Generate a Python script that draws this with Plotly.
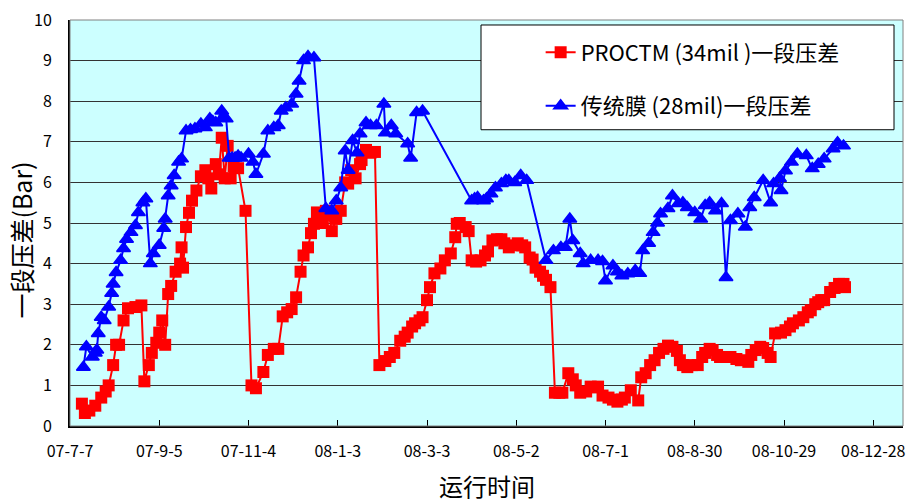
import pandas as pd
import plotly.graph_objects as go

# Operating start date; samples are stored as days of operation since this date
start_date = "2007-07-07"

# PROCTM (34mil) first-stage differential pressure, Bar
red_day = [8, 10, 13, 17, 21, 24, 26, 29, 31, 33, 36, 39, 44, 48, 50, 53, 55, 58, 60, 62,
           64, 66, 68, 71, 74, 75, 76, 78, 80, 82, 85, 88, 91, 93, 95, 98, 100, 102, 104, 106,
           108, 110, 113, 118, 122, 125, 130, 133, 137, 140, 143, 146, 149, 152, 155, 157, 160, 162, 164, 166,
           167, 170, 172, 174, 176, 179, 182, 185, 187, 189, 192, 195, 196, 199, 202, 205, 208, 212, 215, 218,
           222, 225, 227, 230, 232, 235, 237, 240, 242, 245, 249, 252, 256, 259, 260, 262, 266, 268, 270, 273,
           276, 279, 281, 284, 287, 290, 292, 295, 298, 301, 304, 306, 309, 311, 313, 316, 318, 320, 323, 326,
           329, 331, 335, 338, 340, 343, 347, 350, 353, 355, 358, 362, 365, 368, 371, 373, 377, 382, 384, 387,
           390, 393, 396, 399, 402, 405, 408, 410, 412, 415, 418, 422, 425, 427, 430, 432, 435, 437, 441, 444,
           448, 451, 456, 458, 461, 464, 466, 469, 471, 474, 478, 481, 484, 486, 490, 493, 496, 498, 501, 503,
           505, 507, 511, 514, 517, 520, 521]
red_val = [0.55, 0.32, 0.38, 0.5, 0.7, 0.85, 1.0, 1.5, 2.0, 2.0, 2.6, 2.9, 2.93, 2.97, 1.1, 1.5, 1.8, 2.05, 2.3, 2.6,
           2.0, 3.25, 3.45, 3.8, 4.0, 4.4, 3.9, 4.9, 5.25, 5.55, 5.8, 6.15, 6.3, 6.1, 5.85, 6.45, 6.2, 7.1, 6.1, 6.9,
           6.1, 6.4, 6.35, 5.3, 1.0, 0.93, 1.33, 1.75, 1.9, 1.9, 2.7, 2.8, 2.88, 3.17, 3.8, 4.2, 4.4, 4.75, 4.98, 5.26,
           5.2, 5.0, 5.3, 5.2, 4.8, 5.1, 5.3, 6.0, 5.97, 6.3, 6.1, 6.45, 6.55, 6.8, 6.73, 6.75, 1.5, 1.6, 1.7, 1.8,
           2.1, 2.2, 2.3, 2.45, 2.53, 2.6, 2.68, 3.1, 3.42, 3.76, 3.88, 4.08, 4.25, 4.65, 4.98, 5.0, 4.9, 4.8, 4.08, 4.05,
           4.08, 4.2, 4.3, 4.57, 4.6, 4.6, 4.5, 4.4, 4.45, 4.5, 4.45, 4.4, 4.15, 4.1, 3.9, 3.8, 3.7, 3.6, 3.42, 0.82,
           0.82, 0.82, 1.3, 1.15, 1.0, 0.82, 0.85, 0.97, 0.95, 0.97, 0.75, 0.7, 0.65, 0.6, 0.65, 0.7, 0.88, 0.63, 1.2, 1.3,
           1.5, 1.62, 1.8, 1.9, 1.98, 1.95, 1.85, 1.62, 1.5, 1.45, 1.5, 1.5, 1.7, 1.8, 1.9, 1.87, 1.75, 1.7, 1.7, 1.7,
           1.65, 1.62, 1.58, 1.75, 1.87, 1.95, 1.92, 1.8, 1.7, 2.28, 2.3, 2.36, 2.45, 2.53, 2.6, 2.68, 2.8, 2.85, 3.0, 3.05,
           3.1, 3.1, 3.3, 3.4, 3.5, 3.5, 3.42]

# Conventional membrane (28mil) first-stage differential pressure, Bar
blue_day = [9, 11, 15, 17, 18, 19, 21, 23, 26, 28, 29, 31, 34, 36, 38, 41, 44, 46, 49, 51,
            54, 56, 60, 63, 64, 66, 68, 70, 73, 75, 78, 81, 84, 88, 91, 94, 96, 98, 102, 103,
            105, 107, 109, 111, 113, 115, 120, 123, 125, 130, 133, 137, 140, 142, 145, 149, 152, 154, 157, 160,
            164, 172, 176, 179, 182, 185, 187, 190, 193, 195, 199, 202, 206, 211, 212, 216, 219, 227, 229, 233,
            237, 270, 272, 274, 278, 280, 283, 286, 290, 293, 295, 299, 303, 307, 320, 325, 330, 333, 336, 338,
            343, 345, 350, 355, 358, 360, 365, 368, 371, 375, 380, 383, 385, 389, 392, 395, 397, 402, 405, 409,
            412, 415, 420, 424, 427, 430, 434, 438, 441, 444, 449, 454, 457, 460, 466, 471, 473, 477, 478, 481,
            485, 489, 495, 499, 503, 507, 513, 516, 520]
blue_val = [1.45, 1.95, 1.7, 1.8, 1.87, 2.28, 2.68, 2.6, 2.93, 3.27, 3.5, 3.78, 4.08, 4.37, 4.6, 4.77, 4.94, 5.26, 5.5, 5.6,
            4.0, 4.25, 4.45, 4.87, 5.1, 5.67, 5.92, 6.17, 6.5, 6.58, 7.27, 7.3, 7.32, 7.44, 7.35, 7.57, 7.5, 7.47, 7.76, 7.6,
            7.57, 6.6, 6.6, 6.6, 6.65, 6.6, 6.7, 6.5, 6.2, 6.7, 7.27, 7.35, 7.4, 7.76, 7.84, 7.93, 8.18, 8.5, 9.0, 9.1,
            9.07, 5.36, 5.3, 5.55, 5.87, 6.78, 6.3, 7.03, 6.73, 7.2, 7.47, 7.4, 7.4, 7.93, 7.22, 7.4, 7.2, 6.95, 6.6, 7.72,
            7.76, 5.55, 5.6, 5.63, 5.55, 5.6, 5.72, 5.87, 5.97, 6.05, 6.05, 6.0, 6.17, 6.05, 4.08, 4.32, 4.4, 4.4, 5.1, 4.57,
            4.25, 4.0, 4.08, 4.08, 4.05, 3.58, 3.95, 3.8, 3.7, 3.75, 3.83, 3.76, 4.32, 4.5, 4.77, 5.0, 5.23, 5.36, 5.67, 5.48,
            5.5, 5.38, 5.26, 5.1, 5.43, 5.5, 5.3, 5.48, 3.66, 5.06, 5.23, 4.9, 5.38, 5.63, 6.05, 5.5, 5.97, 6.1, 5.8, 6.29,
            6.5, 6.7, 6.66, 6.34, 6.45, 6.58, 6.83, 6.98, 6.9]

# Axis ticks (60-day steps) and their labels
tick_dates = ["2007-07-07", "2007-09-05", "2007-11-04", "2008-01-03", "2008-03-03",
              "2008-05-02", "2008-07-01", "2008-08-30", "2008-10-29", "2008-12-28"]
tick_text = ["07-7-7", "07-9-5", "07-11-4", "08-1-3", "08-3-3",
             "08-5-2", "08-7-1", "08-8-30", "08-10-29", "08-12-28"]
x_end = "2009-01-17"

series_names = ["PROCTM (34mil )一段压差", "传统膜 (28mil)一段压差"]

t0 = pd.Timestamp(start_date)
red_x = t0 + pd.to_timedelta(red_day, unit="D")
blue_x = t0 + pd.to_timedelta(blue_day, unit="D")

CJK = "Noto Sans CJK SC, Noto Sans CJK JP, sans-serif"

fig = go.Figure()
fig.add_trace(go.Scatter(
    x=red_x, y=red_val, mode="lines+markers", name=series_names[0],
    legendgroup="a",
    line=dict(color="#FF0000", width=2),
    marker=dict(symbol="square", size=12, color="#FF0000"),
))
fig.add_trace(go.Scatter(
    x=blue_x, y=blue_val, mode="lines+markers", name=series_names[1],
    legendgroup="b",
    line=dict(color="#0000FF", width=2),
    marker=dict(symbol="triangle-up", size=12, color="#0000FF",
                line=dict(color="#0000FF", width=1.5)),
))

# Frame of the legend box
legend_box = dict(x0=0.4934, x1=0.9892, y0=0.7297, y1=0.9877)

fig.update_layout(
    width=912, height=503,
    margin=dict(l=70, r=7, t=19, b=77),
    paper_bgcolor="white",
    plot_bgcolor="#CCFFFF",
    font=dict(family=CJK, color="black"),
    showlegend=True,
    legend=dict(
        x=0.565, y=0.972, xanchor="left", yanchor="top",
        bgcolor="rgba(0,0,0,0)", borderwidth=0,
        font=dict(size=22, family=CJK, color="black"),
        tracegroupgap=22,
        traceorder="grouped",
    ),
    xaxis=dict(
        type="date",
        range=[start_date, x_end],
        tickmode="array", tickvals=tick_dates, ticktext=tick_text,
        ticks="inside", ticklen=6, tickwidth=1, tickcolor="black",
        tickfont=dict(size=16, family=CJK, color="black"),
        ticklabelstandoff=10,
        showgrid=False, zeroline=False,
        showline=True, linecolor="black", linewidth=2,
    ),
    yaxis=dict(
        range=[0, 10], dtick=1,
        ticks="", tickfont=dict(size=16, family=CJK, color="black"),
        ticklabelstandoff=13,
        showgrid=True, gridcolor="#333333", gridwidth=1,
        zeroline=False,
        showline=True, linecolor="black", linewidth=2,
    ),
    shapes=[
        # plot area outline (top / right)
        dict(type="rect", xref="paper", yref="paper", x0=0, x1=1, y0=0, y1=1,
             line=dict(color="#808080", width=1), layer="above"),
        dict(type="rect", xref="paper", yref="paper", **legend_box,
             line=dict(color="black", width=1), fillcolor="white", layer="above"),
    ],
    annotations=[
        dict(text="运行时间", xref="paper", yref="paper", x=0.5, y=-0.147,
             xanchor="center", yanchor="middle", showarrow=False,
             font=dict(size=24, family=CJK, color="black")),
        dict(text="一段压差(Bar)", xref="paper", yref="paper", x=-0.0587, y=0.457,
             xanchor="center", yanchor="middle", showarrow=False, textangle=-90,
             font=dict(size=25, family=CJK, color="black")),
    ],
)

fig.write_html("out.html")
